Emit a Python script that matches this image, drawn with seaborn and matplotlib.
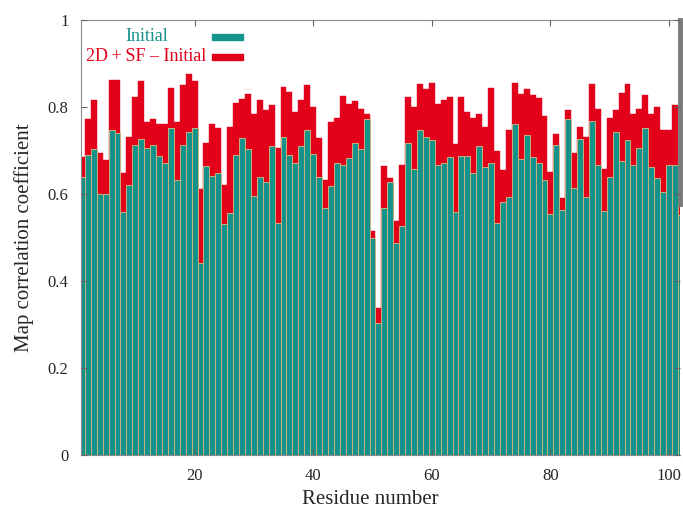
import numpy as np
import pandas as pd
import seaborn as sns
import matplotlib.pyplot as plt
from matplotlib.patches import Rectangle

# residue index, map correlation of the initial model and of the 2D+SF model
residues = list(range(1, 103))
initial = [
    0.640, 0.690, 0.703, 0.600, 0.600, 0.747, 0.741, 0.559, 0.621, 0.713,
    0.726, 0.705, 0.713, 0.687, 0.672, 0.751, 0.632, 0.713, 0.743, 0.752,
    0.441, 0.664, 0.641, 0.648, 0.531, 0.556, 0.690, 0.729, 0.703, 0.595,
    0.638, 0.628, 0.710, 0.534, 0.732, 0.690, 0.671, 0.710, 0.747, 0.692,
    0.640, 0.567, 0.618, 0.672, 0.667, 0.682, 0.718, 0.703, 0.772, 0.500,
    0.303, 0.567, 0.628, 0.488, 0.526, 0.718, 0.657, 0.747, 0.732, 0.724,
    0.667, 0.671, 0.686, 0.559, 0.687, 0.687, 0.648, 0.710, 0.663, 0.672,
    0.534, 0.582, 0.594, 0.762, 0.680, 0.736, 0.685, 0.672, 0.632, 0.553,
    0.713, 0.563, 0.772, 0.614, 0.726, 0.592, 0.768, 0.667, 0.561, 0.640,
    0.743, 0.677, 0.724, 0.667, 0.705, 0.751, 0.663, 0.636, 0.605, 0.667,
    0.667, 0.552,
]
combined = [
    0.686, 0.772, 0.815, 0.694, 0.678, 0.862, 0.863, 0.648, 0.732, 0.824,
    0.860, 0.766, 0.772, 0.762, 0.762, 0.843, 0.766, 0.851, 0.875, 0.860,
    0.611, 0.718, 0.761, 0.751, 0.621, 0.753, 0.810, 0.819, 0.831, 0.785,
    0.816, 0.792, 0.805, 0.705, 0.845, 0.835, 0.789, 0.817, 0.851, 0.800,
    0.729, 0.632, 0.766, 0.774, 0.826, 0.808, 0.814, 0.795, 0.785, 0.516,
    0.337, 0.664, 0.636, 0.539, 0.667, 0.824, 0.800, 0.854, 0.841, 0.856,
    0.808, 0.815, 0.824, 0.716, 0.824, 0.789, 0.774, 0.785, 0.755, 0.843,
    0.700, 0.655, 0.747, 0.856, 0.831, 0.841, 0.828, 0.821, 0.779, 0.651,
    0.737, 0.590, 0.792, 0.695, 0.755, 0.732, 0.853, 0.795, 0.657, 0.774,
    0.793, 0.833, 0.853, 0.785, 0.795, 0.828, 0.785, 0.799, 0.747, 0.747,
    0.805, 0.577,
]
x_ticks = [20, 40, 60, 80, 100]
y_ticks = [0, 0.2, 0.4, 0.6, 0.8, 1.0]
y_labels = ["0", "0.2", "0.4", "0.6", "0.8", "1"]

teal = "#15928b"
red = "#e3001b"
edge = "#c9b27c"
border = "#8c8c8c"

sns.set_style("ticks")
plt.rcParams["font.family"] = ["Liberation Serif", "DejaVu Serif"]

df = pd.DataFrame({"residue": residues, "initial": initial, "combined": combined})

fig = plt.figure(figsize=(6.83, 5.08), dpi=100)
ax = fig.add_axes([0.1186, 0.1043, 0.877, 0.8563])

sns.barplot(data=df, x="residue", y="combined", native_scale=True, width=1.0,
            color=red, saturation=1, edgecolor=red, linewidth=0.3,
            errorbar=None, ax=ax, zorder=2)
sns.barplot(data=df, x="residue", y="initial", native_scale=True, width=1.0,
            color=teal, saturation=1, edgecolor=edge, linewidth=0.7,
            errorbar=None, ax=ax, zorder=2)

ax.set_xlim(0.85, 101.85)
ax.set_ylim(0, 1)
ax.set_xticks(x_ticks)
ax.set_xticklabels([str(t) for t in x_ticks])
ax.set_yticks(y_ticks)
ax.set_yticklabels(y_labels)
ax.set_axisbelow(False)
ax.tick_params(direction="in", top=True, right=True, length=4, width=0.8,
               color="#666666", labelsize=12, pad=9)

for side in ["left", "top", "bottom"]:
    ax.spines[side].set_color(border)
    ax.spines[side].set_linewidth(0.8)
# the thick right border is hidden behind the last, clipped bar
ax.spines["right"].set_color("#7a7a7a")
ax.spines["right"].set_linewidth(3.5)
ax.spines["right"].set_bounds(combined[-1], 1)

ax.set_xlabel("Residue number", fontsize=15, labelpad=10)
ax.xaxis.set_label_coords(0.483, -0.08)
ax.set_ylabel("Map correlation coefficient", fontsize=15, labelpad=10)

# gnuplot style key: centred text, colour sample on the right
key = [("Initial", teal, 0.961), ("2D\u2009+\u2009SF \u2013 Initial", red, 0.916)]
for label, col, ky in key:
    ax.text(0.109, ky, label, color=col, fontsize=13, ha="center", va="center",
            transform=ax.transAxes)
    ax.add_patch(Rectangle((0.219, ky - 0.007), 0.052, 0.013, color=col,
                           transform=ax.transAxes, zorder=4))

fig.savefig("out.png", dpi=100)
